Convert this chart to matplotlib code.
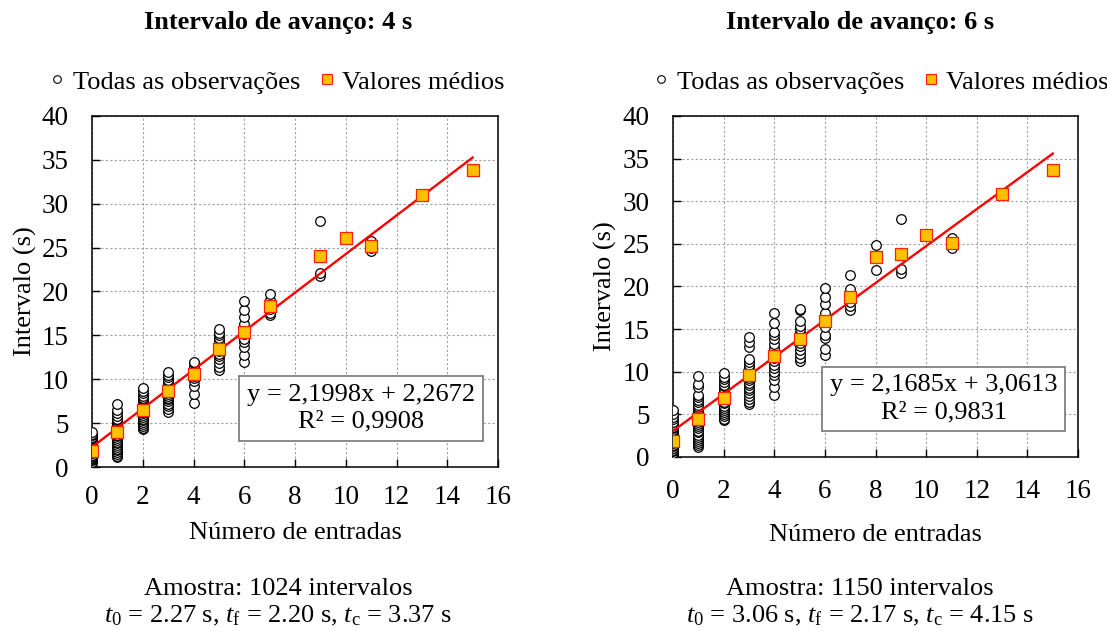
import matplotlib
matplotlib.use('Agg')
import matplotlib.pyplot as plt
from matplotlib.lines import Line2D

plt.rcParams['font.family'] = ['Liberation Serif', 'DejaVu Serif']
plt.rcParams['mathtext.fontset'] = 'custom'
plt.rcParams['mathtext.rm'] = 'Liberation Serif'
plt.rcParams['mathtext.it'] = 'Liberation Serif:italic'

# --- data: headway 4 s ---
obs4_x = [0, 1, 2, 3, 4, 5, 6, 7, 9, 11]
obs4_y = [
    [0.5, 0.6, 0.75, 0.9, 1.0, 1.15, 1.3, 1.4, 1.55, 1.7, 1.8, 1.95, 2.1, 2.2, 2.35, 2.5, 2.6, 2.75, 2.9, 3.0, 3.15, 3.3, 3.45, 3.6, 3.8, 4.0],
    [1.1, 1.3, 1.5, 1.7, 1.9, 2.1, 2.3, 2.5, 2.7, 2.9, 3.1, 3.3, 3.5, 3.7, 3.9, 4.1, 4.3, 4.5, 4.7, 4.9, 5.1, 5.3, 5.5, 5.8, 6.1, 6.5, 7.2],
    [4.3, 4.5, 4.7, 4.9, 5.1, 5.3, 5.5, 5.7, 5.9, 6.1, 6.3, 6.5, 6.7, 6.9, 7.1, 7.3, 7.5, 7.7, 7.9, 8.1, 8.4, 8.7, 9.0],
    [6.3, 6.6, 6.9, 7.2, 7.5, 7.7, 7.9, 8.1, 8.3, 8.5, 8.7, 8.9, 9.1, 9.3, 9.5, 9.7, 9.9, 10.2, 10.5, 10.8],
    [7.3, 8.3, 9.2, 9.8, 10.1, 10.4, 10.7, 11.0, 11.4, 11.8, 12.0],
    [11.1, 11.4, 11.9, 12.3, 12.6, 12.9, 13.2, 13.5, 13.8, 14.1, 14.4, 14.7, 15.0, 15.3, 15.7],
    [12.0, 12.8, 13.7, 14.2, 14.6, 15.2, 16.3, 17.1, 17.9, 18.9],
    [17.3, 17.6, 18.0, 19.0, 19.7],
    [21.8, 22.1, 28.0],
    [24.6, 25.0, 25.7],
]
mean4_x = [0, 1, 2, 3, 4, 5, 6, 7, 9, 10, 11, 13, 15]
mean4_y = [1.8, 4.0, 6.5, 8.7, 10.6, 13.5, 15.4, 18.3, 24.0, 26.1, 25.2, 30.95, 33.8]
fit4 = (2.1998, 2.2672)

# --- data: headway 6 s ---
obs6_x = [0, 1, 2, 3, 4, 5, 6, 7, 8, 9, 11]
obs6_y = [
    [0.2, 0.35, 0.5, 0.7, 0.85, 1.0, 1.1, 1.3, 1.45, 1.6, 1.7, 1.85, 2.0, 2.2, 2.3, 2.45, 2.6, 2.8, 2.9, 3.05, 3.2, 3.4, 3.5, 3.7, 3.9, 4.1, 4.4, 4.7, 5.0, 5.5],
    [1.2, 1.4, 1.6, 1.9, 2.1, 2.4, 2.6, 2.9, 3.1, 3.4, 3.6, 3.9, 4.1, 4.4, 4.6, 4.9, 5.1, 5.4, 5.6, 5.9, 6.1, 6.4, 6.7, 7.0, 7.3, 8.2, 8.6, 9.5],
    [4.3, 4.5, 4.8, 5.0, 5.3, 5.5, 5.8, 6.0, 6.3, 6.5, 6.8, 7.0, 7.3, 7.5, 7.8, 8.0, 8.3, 8.5, 8.8, 9.1, 9.4, 9.9],
    [6.2, 6.5, 6.8, 7.2, 7.5, 7.8, 8.1, 8.4, 8.7, 9.0, 9.3, 9.6, 9.9, 10.2, 10.5, 10.8, 11.1, 11.5, 12.9, 13.5, 14.1],
    [7.3, 8.2, 9.0, 9.6, 10.0, 10.4, 10.8, 11.2, 11.6, 12.0, 12.4, 12.8, 13.3, 13.8, 14.3, 14.7, 15.7, 16.9],
    [11.2, 11.6, 12.1, 12.6, 13.0, 13.4, 13.8, 14.2, 14.6, 15.0, 15.4, 15.9, 17.2, 17.4],
    [12.0, 12.7, 13.9, 14.3, 15.2, 16.0, 16.9, 17.9, 18.8, 19.8],
    [17.2, 17.7, 18.2, 19.7, 21.3],
    [21.9, 24.9],
    [21.6, 22.1, 27.9],
    [24.5, 25.0, 25.7],
]
mean6_x = [0, 1, 2, 3, 4, 5, 6, 7, 8, 9, 10, 11, 13, 15]
mean6_y = [1.9, 4.5, 6.9, 9.6, 11.8, 13.8, 16.0, 18.8, 23.4, 23.8, 26.05, 25.1, 30.9, 33.7]
fit6 = (2.1685, 3.0613)

fig = plt.figure(figsize=(11.07, 6.31), dpi=100)
FS = 19

panels = [
    dict(rect=[0.0831, 0.2599, 0.3668, 0.5563], ox=obs4_x, oy=obs4_y, mx=mean4_x, my=mean4_y, fit=fit4,
         eq='y = 2,1998x + 2,2672\nR² = 0,9908', box=(0.663, 0.167), cx=278, title='Intervalo de avanço: 4 s',
         leg_x=277, ylab_x=-0.135, xlab_y=-0.157, xpad=13,
         n='Amostra: 1024 intervalos',
         t=r'$\mathit{t}_\mathrm{0}$ = 2.27 s, $\mathit{t}_\mathrm{f}$ = 2.20 s, $\mathit{t}_\mathrm{c}$ = 3.37 s'),
    dict(rect=[0.608, 0.2758, 0.3659, 0.5404], ox=obs6_x, oy=obs6_y, mx=mean6_x, my=mean6_y, fit=fit6,
         eq='y = 2,1685x + 3,0613\nR² = 0,9831', box=(0.668, 0.170), cx=860, title='Intervalo de avanço: 6 s',
         leg_x=881, ylab_x=-0.138, xlab_y=-0.196, xpad=16,
         n='Amostra: 1150 intervalos',
         t=r'$\mathit{t}_\mathrm{0}$ = 3.06 s, $\mathit{t}_\mathrm{f}$ = 2.17 s, $\mathit{t}_\mathrm{c}$ = 4.15 s'),
]

for p in panels:
    ax = fig.add_axes(p['rect'])
    for x, ys in zip(p['ox'], p['oy']):
        ax.scatter([x] * len(ys), ys, s=48, facecolors='white', edgecolors='black', linewidths=0.9, zorder=3)
    a, b = p['fit']
    xs = [0, 15]
    ax.plot(xs, [a * v + b for v in xs], color='#ff0000', lw=1.7, zorder=4)
    ax.scatter(p['mx'], p['my'], marker='s', s=72, facecolors='#ffc000', edgecolors='#ff2000', linewidths=0.9, zorder=5)

    ax.set_xlim(0, 16)
    ax.set_ylim(0, 40)
    ax.set_xticks(range(0, 17, 2))
    ax.set_yticks(range(0, 41, 5))
    ax.grid(True, color='#a0a0a0', linestyle=(0, (2, 2)), linewidth=0.8)
    ax.set_axisbelow(True)
    for s in ax.spines.values():
        s.set_linewidth(1.1)
    ax.tick_params(direction='in', length=6, width=1, labelsize=19.5)
    ax.tick_params(axis='x', pad=p['xpad'])
    ax.tick_params(axis='y', pad=17)
    ax.set_ylabel('Intervalo (s)', fontsize=FS)
    ax.yaxis.set_label_coords(p['ylab_x'], 0.5)
    ax.set_xlabel('Número de entradas', fontsize=FS)
    ax.xaxis.set_label_coords(0.5, p['xlab_y'])

    ax.text(p['box'][0], p['box'][1], p['eq'], transform=ax.transAxes, ha='center', va='center',
            fontsize=FS, linespacing=1.3, zorder=6,
            bbox=dict(boxstyle='square,pad=0.3', facecolor='white', edgecolor='#808080', linewidth=1.3))

    fig.text(p['cx'] / 1107, 1 - 23 / 631, p['title'], ha='center', va='center', fontsize=FS, fontweight='bold')
    handles = [
        Line2D([], [], marker='o', linestyle='none', markersize=5.5, markerfacecolor='white', markeredgecolor='black', markeredgewidth=0.8),
        Line2D([], [], marker='s', linestyle='none', markersize=6.5, markerfacecolor='#ffc000', markeredgecolor='#ff2000', markeredgewidth=0.8),
    ]
    fig.legend(handles, ['Todas as observações', 'Valores médios'], loc='center',
               bbox_to_anchor=(p['leg_x'] / 1107, 1 - 82 / 631), ncol=2, frameon=False, fontsize=FS,
               handlelength=0.6, handletextpad=0.3, columnspacing=0.7, borderpad=0)
    fig.text(p['cx'] / 1107, 1 - 589 / 631, p['n'], ha='center', va='center', fontsize=FS)
    fig.text(p['cx'] / 1107, 1 - 616 / 631, p['t'], ha='center', va='center', fontsize=FS)

fig.savefig('out.png', dpi=100)
